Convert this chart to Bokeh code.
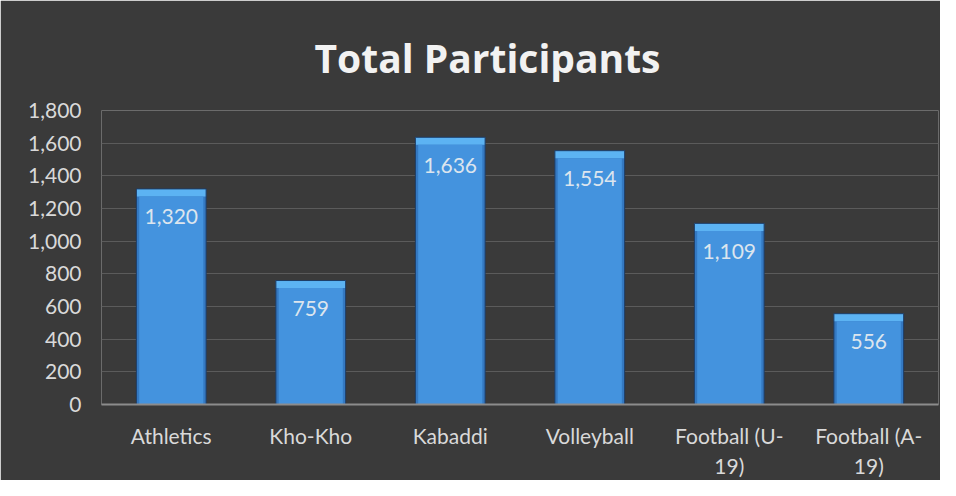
from bokeh.plotting import figure
from bokeh.models import ColumnDataSource, Range1d, FixedTicker, NumeralTickFormatter
from bokeh.core.properties import value
from bokeh.embed import file_html
from bokeh.resources import INLINE

title_text = "Total Participants"
categories = ["Athletics", "Kho-Kho", "Kabaddi", "Volleyball", "Football (U-\n19)", "Football (A-\n19)"]
participants = [1320, 759, 1636, 1554, 1109, 556]
y_ticks = [0, 200, 400, 600, 800, 1000, 1200, 1400, 1600, 1800]

FONT = "Lato"
BG = "#3a3a3a"

bevel = 46  # height of top bevel strip in data units
src = ColumnDataSource(dict(
    cat=categories,
    val=participants,
    bevel_bottom=[v - bevel for v in participants],
    label=[f"{v:,}" for v in participants],
))

p = figure(x_range=categories, y_range=Range1d(0, 1800), width=940, height=480,
           output_backend="svg", toolbar_location=None,
           min_border_left=101, min_border_right=2, min_border_top=110, min_border_bottom=75)

p.background_fill_color = BG
p.border_fill_color = BG
p.outline_line_color = None

p.title.text = title_text
p.title.text_font = "Open Sans"
p.title.text_font_size = "39px"
p.title.text_font_style = "bold"
p.title.text_color = "#f2f2f2"
p.title.align = "left"
p.title.offset = 213
p.title.standoff = 54

# bar body (sides), top bevel, inner face, outline
p.vbar(x="cat", top="val", width=0.5, source=src, fill_color="#3479c2", line_color=None)
p.vbar(x="cat", top="val", bottom="bevel_bottom", width=0.5, source=src,
       fill_color="#5cb3f3", line_color=None)
p.vbar(x="cat", top="bevel_bottom", width=0.46, source=src,
       fill_color="#4493de", line_color=None)
p.vbar(x="cat", top="val", width=0.5, source=src, fill_color=None,
       line_color="#1e3d66", line_width=1)

p.text(x="cat", y="val", text="label", source=src, text_align="center",
       text_baseline="middle", y_offset=28, text_color="#dce5ee",
       text_font=value(FONT), text_font_size="21px")

p.xgrid.grid_line_color = None
p.ygrid.grid_line_color = "#5b5b5b"
p.ygrid.grid_line_width = 1

p.yaxis.ticker = FixedTicker(ticks=y_ticks)
p.yaxis.formatter = NumeralTickFormatter(format="0,0")
p.yaxis.axis_line_color = None
p.yaxis.major_tick_line_color = None
p.yaxis.minor_tick_line_color = None
p.yaxis.major_label_text_font = FONT
p.yaxis.major_label_text_font_size = "21px"
p.yaxis.major_label_text_color = "#d9d9d9"
p.yaxis.major_label_standoff = 14

p.xaxis.axis_line_color = "#8c8c8c"
p.xaxis.axis_line_width = 2
p.xaxis.major_tick_line_color = None
p.xaxis.minor_tick_line_color = None
p.xaxis.major_label_text_font = FONT
p.xaxis.major_label_text_font_size = "21px"
p.xaxis.major_label_text_color = "#d9d9d9"
p.xaxis.major_label_standoff = 12

open("out.html", "w").write(file_html(p, INLINE))
